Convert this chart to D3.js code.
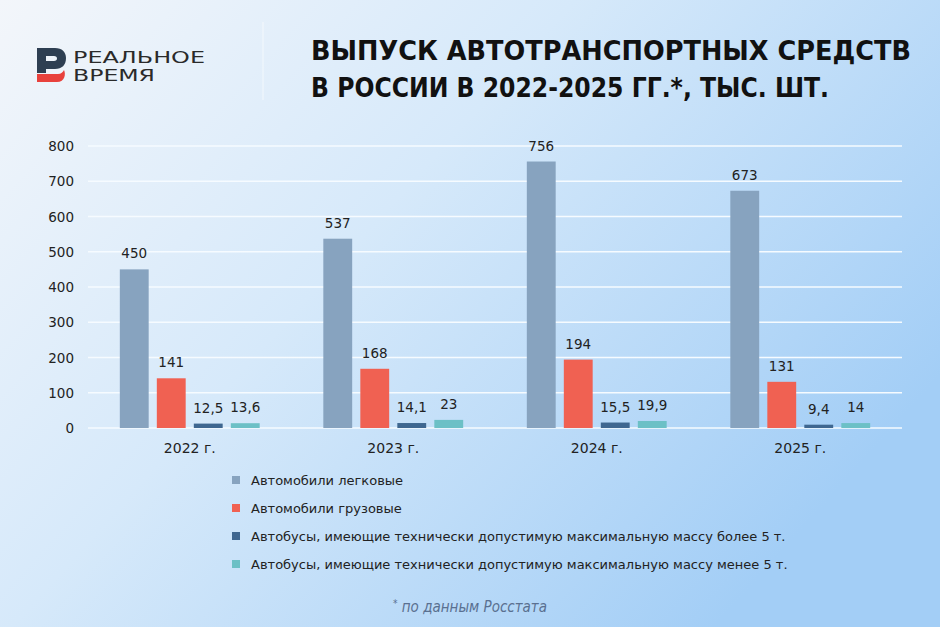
<!DOCTYPE html>
<meta charset="utf-8">
<title>Выпуск автотранспортных средств</title>
<style>

body {
  margin: 0;
  font-family: "DejaVu Sans", sans-serif;
}

</style>
<body>
</body>
<script src="https://cdn.jsdelivr.net/npm/d3@7/dist/d3.min.js"></script>
<script>

var width = 940,
    height = 627;

// data
var years = ["2022 г.", "2023 г.", "2024 г.", "2025 г."];
var seriesNames = [
  "Автомобили легковые",
  "Автомобили грузовые",
  "Автобусы, имеющие технически допустимую максимальную массу более 5 т.",
  "Автобусы, имеющие технически допустимую максимальную массу менее 5 т."
];
var cars = [450, 537, 756, 673];
var trucks = [141, 168, 194, 131];
var busesOver5 = [12.5, 14.1, 15.5, 9.4];
var busesUnder5 = [13.6, 23, 19.9, 14];
var yTicks = [0, 100, 200, 300, 400, 500, 600, 700, 800];

var seriesValues = [cars, trucks, busesOver5, busesUnder5];
var colors = ["#87a3bf", "#f06152", "#3f6790", "#6cc0c6"];

var svg = d3.select("body").append("svg")
    .attr("width", width)
    .attr("height", height);

// background gradient
var defs = svg.append("defs");
var grad = defs.append("linearGradient")
    .attr("id", "bg")
    .attr("x1", 0).attr("y1", 0)
    .attr("x2", 1).attr("y2", 0.6);
grad.append("stop").attr("offset", 0).attr("stop-color", "#f3f6fa");
grad.append("stop").attr("offset", 0.45).attr("stop-color", "#d6e9fa");
grad.append("stop").attr("offset", 1).attr("stop-color", "#a3cef6");

svg.append("rect")
    .attr("width", width)
    .attr("height", height)
    .attr("fill", "url(#bg)");

// logo
var logo = svg.append("g");
logo.append("path")
    .attr("d", "M37,48 H55 C62,48 66,52 66,58 C66,65 62,69 55,69 H46 V73 H37 Z M46,56 V61 H54 C56,61 57,60 57,58.5 C57,57 56,56 54,56 Z")
    .attr("fill", "#2e3f52")
    .attr("fill-rule", "evenodd");
logo.append("path")
    .attr("d", "M37,74 H58 C61,74 63,72 64,70 C66,74 65,82 57,82 H37 Z")
    .attr("fill", "#e8413c");
logo.append("text")
    .attr("x", 73).attr("y", 63)
    .attr("textLength", 132)
    .attr("lengthAdjust", "spacingAndGlyphs")
    .style("font-size", "16px")
    .style("fill", "#2a2a2a")
    .text("РЕАЛЬНОЕ");
logo.append("text")
    .attr("x", 73).attr("y", 81)
    .attr("textLength", 82)
    .attr("lengthAdjust", "spacingAndGlyphs")
    .style("font-size", "16px")
    .style("fill", "#2a2a2a")
    .text("ВРЕМЯ");

svg.append("line")
    .attr("x1", 263).attr("x2", 263)
    .attr("y1", 22).attr("y2", 100)
    .attr("stroke", "#ffffff")
    .attr("stroke-opacity", 0.6);

// title
var title = svg.append("g")
    .style("font-size", "26px")
    .style("font-weight", "bold")
    .style("fill", "#111");
title.append("text")
    .attr("x", 311).attr("y", 60)
    .attr("textLength", 600)
    .attr("lengthAdjust", "spacingAndGlyphs")
    .text("ВЫПУСК АВТОТРАНСПОРТНЫХ СРЕДСТВ");
title.append("text")
    .attr("x", 311).attr("y", 97)
    .attr("textLength", 518)
    .attr("lengthAdjust", "spacingAndGlyphs")
    .text("В РОССИИ В 2022-2025 ГГ.*, ТЫС. ШТ.");

// scales
var x0 = d3.scaleBand()
    .domain(years)
    .range([88, 902])
    .padding(0);

var x1 = d3.scaleBand()
    .domain(d3.range(seriesValues.length))
    .range([-74, 74])
    .paddingInner(0.22)
    .paddingOuter(0.11);

var y = d3.scaleLinear()
    .domain([0, 800])
    .range([428, 146]);

// gridlines
svg.append("g")
    .selectAll("line")
    .data(yTicks)
  .enter().append("line")
    .attr("x1", 88).attr("x2", 902)
    .attr("y1", function(d) { return y(d); })
    .attr("y2", function(d) { return y(d); })
    .attr("stroke", "#f6fbff")
    .attr("stroke-width", 1.5);

// y axis labels
svg.append("g")
    .selectAll("text")
    .data(yTicks)
  .enter().append("text")
    .attr("x", 74)
    .attr("y", function(d) { return y(d) + 5; })
    .attr("text-anchor", "end")
    .style("font-size", "13.5px")
    .style("fill", "#222")
    .text(function(d) { return d; });

function fmt(v) {
  return String(v).replace(".", ",");
}

// bars
var groups = svg.append("g")
    .selectAll("g")
    .data(years)
  .enter().append("g")
    .attr("transform", function(d) { return "translate(" + (x0(d) + x0.bandwidth() / 2) + ",0)"; });

groups.selectAll("rect")
    .data(function(d, i) { return seriesValues.map(function(s, j) { return {s: j, v: s[i]}; }); })
  .enter().append("rect")
    .attr("x", function(d) { return x1(d.s); })
    .attr("y", function(d) { return y(d.v); })
    .attr("width", x1.bandwidth())
    .attr("height", function(d) { return y(0) - y(d.v); })
    .attr("fill", function(d) { return colors[d.s]; });

groups.selectAll("text.val")
    .data(function(d, i) { return seriesValues.map(function(s, j) { return {s: j, v: s[i]}; }); })
  .enter().append("text")
    .attr("class", "val")
    .attr("x", function(d) { return x1(d.s) + x1.bandwidth() / 2; })
    .attr("y", function(d) { return y(d.v) - 11; })
    .attr("text-anchor", "middle")
    .style("font-size", "13.5px")
    .style("fill", "#222")
    .text(function(d) { return fmt(d.v); });

// category labels
groups.append("text")
    .attr("x", 0)
    .attr("y", 453)
    .attr("text-anchor", "middle")
    .style("font-size", "14px")
    .style("fill", "#222")
    .text(function(d) { return d; });

// legend
var legend = svg.append("g")
    .selectAll("g")
    .data(seriesNames)
  .enter().append("g")
    .attr("transform", function(d, i) { return "translate(232," + (480 + i * 28) + ")"; });

legend.append("rect")
    .attr("x", 0).attr("y", -4)
    .attr("width", 8).attr("height", 8)
    .attr("fill", function(d, i) { return colors[i]; });

legend.append("text")
    .attr("x", 19).attr("y", 4.5)
    .style("font-size", "13px")
    .style("fill", "#222")
    .text(function(d) { return d; });

// footnote
var note = svg.append("text")
    .attr("x", 470).attr("y", 612)
    .attr("text-anchor", "middle")
    .style("font-family", "'Liberation Sans Narrow', 'DejaVu Sans Condensed', sans-serif")
    .style("font-style", "italic")
    .style("font-size", "15px")
    .style("fill", "#5a7090");
note.append("tspan")
    .attr("dy", -5)
    .style("font-size", "10px")
    .text("*");
note.append("tspan")
    .attr("dy", 5)
    .text(" по данным Росстата");

</script>
